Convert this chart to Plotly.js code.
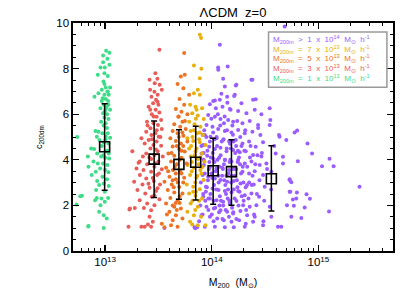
<!DOCTYPE html>
<html>
<head>
<meta charset="utf-8">
<script src="https://cdn.plot.ly/plotly-3.0.1.min.js"></script>
<style>html,body{margin:0;padding:0;background:#fff;}#chart{width:415px;height:297px;}</style>
</head>
<body>
<div id="chart"></div>
<script>
// masses are in units of 1e13 Msun
const MASS_UNIT = 1e13;

const greenPts = [[1.022,8.78],[1.098,8.69],[0.958,8.58],[1.051,8.43],[0.958,8.28],[1.098,8.17],[0.905,8.05],[0.993,8.05],[0.986,7.80],[0.854,7.73],[1.059,7.68],[0.965,7.43],[0.986,7.32],[1.014,7.17],[1.114,7.17],[0.931,7.07],[1.051,6.99],[0.866,6.92],[0.986,6.85],[1.082,6.85],[0.795,6.77],[1.014,6.67],[0.931,6.58],[1.067,6.58],[0.972,6.41],[1.074,6.41],[0.905,6.26],[1.007,6.19],[1.114,6.19],[0.958,6.04],[1.044,6.00],[0.986,5.85],[1.074,5.79],[0.918,5.67],[1.014,5.60],[0.812,5.26],[0.866,5.23],[0.944,5.16],[1.059,5.16],[0.836,5.01],[1.014,5.01],[1.114,4.97],[0.885,4.87],[0.972,4.77],[1.074,4.72],[0.740,4.50],[0.789,4.47],[1.022,4.38],[0.842,4.28],[1.082,4.28],[0.689,4.14],[0.918,4.14],[1.0,4.09],[1.090,4.06],[0.778,3.92],[0.854,3.84],[0.958,3.84],[1.051,3.77],[0.699,3.70],[0.898,3.62],[1.0,3.55],[0.818,3.48],[1.074,3.45],[0.750,3.33],[0.944,3.26],[1.044,3.15],[0.842,3.07],[0.972,2.96],[0.879,2.89],[1.082,2.85],[0.824,2.67],[0.993,2.60],[0.607,2.42],[0.836,2.33],[0.925,2.30],[1.067,2.33],[0.806,2.23],[0.993,2.16],[0.905,2.01],[0.879,1.72],[0.972,1.57],[1.036,1.42],[0.699,1.10],[0.972,1.01],[0.548,5.00],[0.54,2.04],[0.695,1.08],[0.585,2.4],[1.03,6.3],[0.95,6.7],[1.06,7.0],[0.99,6.1],[1.04,5.4],[0.97,5.5],[1.01,4.9],[0.93,4.6],[1.05,4.4],[0.96,4.2]];

const redPts = [[3.23,8.83],[2.96,7.80],[3.09,7.55],[2.61,7.51],[2.92,7.36],[3.25,7.29],[2.64,7.07],[3.40,7.07],[2.90,6.99],[3.11,6.85],[2.72,6.77],[3.00,6.63],[2.82,6.48],[3.16,6.41],[2.56,6.33],[2.98,6.19],[3.23,6.08],[2.74,6.00],[3.04,5.89],[3.35,5.75],[2.47,5.67],[2.84,5.60],[3.13,5.53],[2.66,5.38],[3.40,5.35],[2.43,5.23],[2.96,5.16],[2.72,5.09],[3.18,5.01],[2.19,4.94],[2.56,4.87],[3.04,4.80],[2.35,4.72],[2.84,4.65],[3.35,4.62],[2.66,4.50],[1.80,4.38],[3.11,4.38],[2.43,4.28],[2.90,4.21],[2.26,4.14],[3.47,4.14],[2.70,4.03],[2.11,3.92],[3.16,3.92],[2.48,3.80],[2.90,3.70],[1.97,3.62],[2.29,3.55],[3.40,3.59],[2.70,3.48],[2.12,3.33],[3.07,3.33],[2.43,3.18],[1.87,3.04],[2.86,3.07],[2.24,2.92],[3.27,2.92],[2.61,2.77],[2.01,2.67],[3.00,2.63],[2.38,2.52],[2.74,2.38],[2.11,2.23],[3.23,2.27],[2.48,2.08],[2.90,2.01],[2.31,1.89],[2.70,1.79],[1.90,1.89],[1.71,1.86],[2.61,1.50],[2.80,1.28],[2.35,1.06],[2.70,1.06],[1.656,1.06],[2.19,1.06],[2.52,1.16],[1.69,1.82],[2.06,3.87],[2.85,5.9],[3.05,5.3],[2.75,4.9],[3.0,4.45],[2.6,4.1],[2.95,3.85],[3.2,3.4],[2.8,3.2],[2.55,2.95],[3.1,2.75],[2.9,2.45],[3.3,5.0],[2.5,5.5],[2.65,6.2],[3.1,6.55]];

const orangePts = [[5.51,8.68],[5.13,7.65],[5.58,7.73],[4.78,7.32],[5.42,7.14],[6.13,6.85],[4.99,6.67],[5.51,6.41],[4.61,6.23],[5.20,6.11],[5.91,6.00],[4.85,5.89],[5.31,5.67],[4.45,5.56],[5.06,5.45],[5.70,5.35],[4.30,5.26],[4.78,5.16],[5.42,5.06],[4.09,4.94],[4.61,4.82],[5.13,4.72],[5.91,4.80],[4.30,4.58],[4.95,4.47],[5.58,4.36],[3.92,4.28],[4.45,4.18],[5.20,4.09],[4.15,3.92],[4.71,3.80],[5.82,3.84],[3.73,3.65],[4.33,3.55],[5.06,3.48],[4.01,3.26],[4.61,3.15],[5.51,3.21],[3.60,3.04],[4.21,2.92],[4.95,2.81],[3.87,2.67],[4.45,2.57],[5.31,2.52],[4.09,2.33],[4.78,2.23],[3.73,2.08],[4.45,1.94],[5.13,1.86],[4.01,1.72],[4.61,1.57],[4.30,1.35],[5.31,1.42],[4.15,1.13],[4.78,1.06],[3.40,1.20],[3.60,1.04],[4.9,5.9],[5.3,5.2],[4.7,4.6],[5.0,4.0],[4.5,3.7],[5.2,3.4],[4.8,3.0],[4.4,2.8],[5.0,2.4],[4.6,2.1],[5.4,4.6],[4.2,4.3],[3.9,3.5],[4.3,2.0],[3.8,1.6],[5.6,5.7],[4.9,5.0],[5.2,4.4],[4.6,3.4],[5.4,3.0],[4.3,3.1],[5.0,2.1],[4.7,1.8]];

const yellowPts = [[7.73,9.48],[7.94,9.34],[6.80,8.14],[7.99,7.99],[7.73,7.58],[7.40,7.07],[6.80,6.92],[7.73,6.85],[6.26,6.41],[7.04,6.33],[8.11,6.26],[6.56,6.04],[7.40,5.94],[8.41,5.79],[6.13,5.67],[6.90,5.56],[7.83,5.45],[6.34,5.26],[7.30,5.16],[8.26,5.09],[5.91,4.94],[6.70,4.82],[7.73,4.77],[8.73,4.65],[6.13,4.50],[7.04,4.38],[8.11,4.28],[6.34,4.14],[7.40,4.03],[8.53,3.92],[5.91,3.77],[6.80,3.65],[7.83,3.55],[6.26,3.33],[7.19,3.21],[8.41,3.11],[5.82,2.92],[6.70,2.82],[7.73,2.71],[6.13,2.52],[7.04,2.42],[8.11,2.30],[6.34,2.08],[7.40,1.94],[5.91,1.72],[6.80,1.57],[7.94,1.50],[6.26,1.28],[7.40,1.13],[6.56,1.16],[8.73,1.13],[7.1,5.8],[6.6,5.0],[7.6,4.9],[7.2,4.5],[6.9,4.2],[7.5,3.8],[6.5,3.5],[7.3,3.3],[7.0,3.0],[7.8,4.1],[6.7,2.6],[7.6,2.2],[7.0,1.8],[8.0,3.4],[6.4,4.6],[7.2,6.2],[6.8,5.3],[7.7,5.2],[6.5,3.9],[8.2,3.7],[7.1,2.6],[6.6,2.2]];

const purplePts = [[48.21,9.85],[11.90,9.05],[11.48,8.05],[12.78,7.55],[16.80,7.26],[24.04,7.51],[13.26,7.21],[10.31,6.58],[11.90,6.63],[13.94,6.77],[16.44,6.85],[18.97,6.48],[24.39,6.63],[9.60,6.44],[10.92,6.26],[12.60,6.33],[14.76,6.23],[17.66,6.14],[21.13,6.04],[25.28,6.19],[29.18,6.00],[9.26,5.97],[10.69,5.89],[12.07,5.79],[14.24,5.75],[15.86,5.67],[19.39,5.60],[22.70,5.70],[27.16,5.53],[35.42,5.75],[34.92,5.53],[8.93,5.53],[10.16,5.45],[11.48,5.35],[13.26,5.26],[15.30,5.20],[17.66,5.31],[20.39,5.16],[24.04,5.23],[28.56,5.09],[42.68,5.09],[8.62,5.09],[9.73,5.01],[11.08,4.94],[12.78,4.87],[14.55,4.80],[16.80,4.87],[19.39,4.72],[22.38,4.80],[25.83,4.57],[30.24,4.77],[49.98,4.87],[8.32,4.65],[9.46,4.57],[10.69,4.47],[12.07,4.53],[13.74,4.38],[15.86,4.43],[18.30,4.33],[20.83,4.38],[24.39,4.21],[29.18,4.14],[39.73,4.28],[8.02,4.28],[9.06,4.18],[10.31,4.06],[11.73,4.09],[13.26,3.99],[15.30,3.92],[17.66,3.99],[20.39,3.84],[23.53,3.92],[28.15,3.77],[32.51,3.84],[46.52,3.84],[8.44,3.77],[9.60,3.70],[11.08,3.62],[12.60,3.65],[14.55,3.55],[16.80,3.59],[19.39,3.48],[22.38,3.40],[25.28,3.50],[30.24,3.33],[36.19,3.48],[53.69,3.11],[8.20,3.33],[9.26,3.26],[10.69,3.18],[12.07,3.11],[13.94,3.04],[16.09,3.07],[18.57,2.96],[21.44,2.89],[24.74,2.92],[31.35,2.82],[8.81,2.82],[10.16,2.74],[11.57,2.67],[13.26,2.63],[15.30,2.57],[17.66,2.63],[20.39,2.45],[23.53,2.52],[27.75,2.38],[54.47,2.60],[8.32,2.38],[9.60,2.30],[11.08,2.23],[12.78,2.16],[14.76,2.08],[17.04,2.19],[19.67,2.01],[22.70,1.94],[26.20,2.01],[34.92,1.94],[61.97,2.30],[50.70,2.01],[8.93,1.94],[10.46,1.86],[12.07,1.79],[13.94,1.72],[15.86,1.64],[18.57,1.75],[21.44,1.57],[25.28,1.50],[36.19,1.50],[8.02,1.57],[9.60,1.50],[11.24,1.42],[12.97,1.35],[15.30,1.28],[18.04,1.35],[20.83,1.20],[24.39,1.28],[30.24,1.13],[8.62,1.06],[10.69,1.06],[13.26,1.04],[16.09,1.04],[20.39,1.06],[41.77,1.06],[44.88,1.06],[59.8,5.20],[63.2,5.28],[79.0,4.72],[87.1,4.28],[64.1,3.94],[127.0,4.05],[108.0,3.72],[138.7,3.72],[242.5,2.82],[53.7,3.15],[55.7,3.01],[53.7,2.60],[62.8,2.57],[77.3,2.49],[83.1,2.29],[57.6,2.26],[58.8,1.98],[74.3,1.91],[125.6,1.73],[55.7,1.50],[69.1,1.45],[43.2,5.01],[34.9,6.26],[25.8,6.66],[23.5,7.51],[17.0,7.29],[14.1,8.09],[11.5,7.95],[46.5,4.13],[8.5,5.3],[8.2,5.1],[8.0,4.6],[8.4,4.3],[8.1,3.7],[7.9,3.0],[8.3,2.5],[7.8,2.0],[8.2,1.6],[7.6,1.3],[7.3,1.04],[6.9,1.04],[3.6,1.01],[7.0,1.0],[9.1,4.4],[9.8,4.1],[10.6,3.9],[11.2,4.6],[12.1,4.2],[13.0,3.8],[13.8,4.5],[14.9,4.0],[15.7,3.6],[16.6,4.3],[17.5,3.9],[18.8,3.4],[9.4,3.6],[10.1,3.2],[10.9,3.5],[11.6,3.0],[12.5,3.3],[13.4,2.9],[14.3,3.4],[15.2,3.0],[16.1,2.7],[17.2,3.1],[18.2,2.6],[19.8,3.0],[9.0,2.8],[9.7,2.5],[10.4,2.2],[11.0,2.7],[11.9,2.4],[12.8,2.0],[13.6,2.5],[14.6,2.2],[15.5,1.9],[16.4,2.3],[17.8,2.0],[19.1,2.4],[8.7,2.2],[9.3,1.8],[10.0,1.6],[10.8,1.9],[11.7,1.7],[12.6,1.4],[13.5,1.8],[14.5,1.5],[15.9,1.7],[17.0,1.4],[8.9,5.0],[9.6,4.8],[10.3,5.2],[11.1,5.0],[12.0,5.5],[12.9,4.9],[13.9,5.3],[14.8,4.7],[15.8,5.1],[16.9,4.6],[18.5,5.0],[20.2,4.4],[21.5,3.7],[22.8,4.1],[24.1,3.3],[25.6,3.8],[20.8,2.8],[22.1,2.3],[23.7,2.9],[26.5,2.5],[21.0,1.8],[24.9,1.6],[9.9,5.8],[11.4,6.0],[13.2,5.9],[15.0,6.2],[17.3,5.7],[10.7,6.6],[12.3,6.9],[14.0,6.5],[16.2,6.8],[9.2,3.1],[10.5,2.9],[11.8,3.7],[13.1,3.1],[14.2,2.7],[15.4,3.3],[16.8,3.6],[18.0,4.1],[19.5,3.7],[12.2,2.2],[13.3,4.0],[14.7,3.9],[10.2,4.3],[11.3,4.0],[12.7,3.6],[9.5,3.9],[16.0,4.8],[17.6,4.4],[19.0,4.6],[8.6,3.4],[8.4,4.0],[8.8,2.6],[28.0,3.1],[29.5,4.3],[31.0,2.2],[33.0,3.6],[36.0,2.7],[38.5,4.6],[27.2,5.4],[30.5,1.3],[9.9,3.4],[11.5,3.3],[12.4,4.8],[13.7,3.3],[15.1,4.5],[16.5,3.3],[18.4,3.8],[10.6,4.9],[14.1,2.3],[17.4,2.8],[19.9,2.2],[22.4,3.0],[11.8,2.0],[13.0,5.6],[15.6,5.5],[20.6,5.3],[23.1,4.6],[26.8,4.2],[9.3,2.3],[10.4,1.3]];

// binned medians with error bars
const binM  = [0.99, 2.88, 4.92, 7.07, 10.3, 15.3, 36.2];
const binC  = [4.57, 4.03, 3.80, 3.89, 3.52, 3.48, 3.17];
const binLo = [2.66, 2.35, 2.27, 2.24, 2.05, 2.01, 1.75];
const binHi = [6.46, 5.70, 5.32, 5.47, 4.94, 4.88, 4.62];

const legendLabels = [
  "M<sub>200m</sub>  >  1  x  10<sup>14</sup>  M<sub>⊙</sub>  h<sup>-1</sup>",
  "M<sub>200m</sub>  =  7  x  10<sup>13</sup>  M<sub>⊙</sub>  h<sup>-1</sup>",
  "M<sub>200m</sub>  =  5  x  10<sup>13</sup>  M<sub>⊙</sub>  h<sup>-1</sup>",
  "M<sub>200m</sub>  =  3  x  10<sup>13</sup>  M<sub>⊙</sub>  h<sup>-1</sup>",
  "M<sub>200m</sub>  =  1  x  10<sup>13</sup>  M<sub>⊙</sub>  h<sup>-1</sup>"
];
const xTickVals = [1e13, 1e14, 1e15];
const xTickText = ["10<sup>13</sup>", "10<sup>14</sup>", "10<sup>15</sup>"];

const COLORS = {purple:'#9a5cff', yellow:'#e8b00c', orange:'#ec7323', red:'#e85d5a', green:'#3ddc88'};
const legendColors = [COLORS.purple, COLORS.yellow, COLORS.orange, COLORS.red, COLORS.green];

function pts(arr, color, name){
  return {type:'scatter', mode:'markers', name:name,
    x: arr.map(p=>p[0]*MASS_UNIT), y: arr.map(p=>p[1]),
    marker:{size:4, color:color, line:{width:0}}, hoverinfo:'x+y', showlegend:false};
}

const traces = [
  pts(purplePts, COLORS.purple, '>1e14'),
  pts(yellowPts, COLORS.yellow, '7e13'),
  pts(orangePts, COLORS.orange, '5e13'),
  pts(redPts, COLORS.red, '3e13'),
  pts(greenPts, COLORS.green, '1e13'),
  {type:'scatter', mode:'markers', name:'median',
    x: binM.map(v=>v*MASS_UNIT), y: binC,
    marker:{symbol:'square-open', size:10, color:'#000', line:{width:1.6, color:'#000'}},
    error_y:{type:'data', symmetric:false,
      array: binHi.map((h,i)=>h-binC[i]), arrayminus: binLo.map((l,i)=>binC[i]-l),
      color:'#000', thickness:1.5, width:3},
    showlegend:false}
];

const minorX = [];
[12,13,14,15].forEach(e=>{for(let k=2;k<=9;k++){minorX.push(k*Math.pow(10,e));}});

const FONT = 'Liberation Sans, Arial, sans-serif';
const annotations = legendLabels.map((t,i)=>({
  xref:'paper', yref:'paper', x:0.618, y:0.927 - i*0.0423, xanchor:'left', yanchor:'middle',
  text:t, showarrow:false, font:{family:FONT, size:8, color:legendColors[i]}
}));

const layout = {
  width:415, height:297,
  margin:{l:72.7, r:22.3, t:23.3, b:46.3, pad:0},
  paper_bgcolor:'#fff', plot_bgcolor:'#fff',
  font:{family:FONT, color:'#000', size:11},
  title:{text:'ΛCDM  z=0', font:{family:FONT, size:13, color:'#000'}, x:0.5, xref:'paper', y:0.957, yref:'container', yanchor:'middle'},
  xaxis:{type:'log', range:[Math.log10(5e12), Math.log10(5e15)], tickvals:xTickVals, ticktext:xTickText,
    ticks:'inside', ticklen:6, tickwidth:1.3, tickcolor:'#000', showline:true, linecolor:'#000', linewidth:1.6, mirror:'ticks',
    showgrid:false, zeroline:false, tickfont:{size:11.5},
    minor:{tickvals:minorX, ticks:'inside', ticklen:3, tickwidth:1, tickcolor:'#000', showgrid:false},
    title:{text:'M<sub>200</sub>  (M<sub>⊙</sub>)', font:{size:10.5}, standoff:11}},
  yaxis:{range:[0,10], dtick:2, tick0:0,
    ticks:'inside', ticklen:6, tickwidth:1.3, tickcolor:'#000', showline:true, linecolor:'#000', linewidth:1.6, mirror:'ticks',
    showgrid:false, zeroline:false, tickfont:{size:11.5},
    minor:{dtick:0.5, ticks:'inside', ticklen:3, tickwidth:1, tickcolor:'#000', showgrid:false},
    title:{text:'c<sub>200dm</sub>', font:{size:9}, standoff:12}},
  shapes:[{type:'rect', xref:'paper', yref:'paper', x0:0.611, x1:0.981, y0:0.7186, y1:0.960,
    line:{color:'#9a9a9a', width:1.5}, fillcolor:'#fff', layer:'above'}],
  annotations:annotations,
  showlegend:false
};

Plotly.newPlot('chart', traces, layout, {displayModeBar:false, staticPlot:true});
</script>
</body>
</html>
